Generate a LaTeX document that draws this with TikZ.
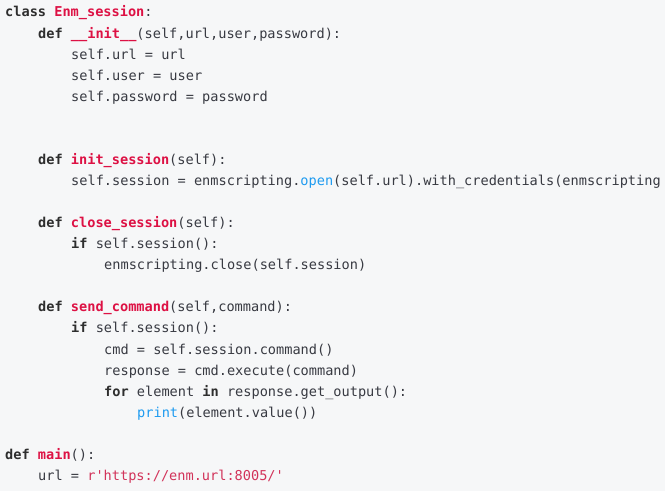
\documentclass[tikz,border=0pt]{standalone}
\usepackage{fontspec}
\newfontfamily\code{DejaVu Sans Mono}
\definecolor{bg}{HTML}{F6F7F8}
\definecolor{txt}{HTML}{383A42}
\definecolor{kw}{HTML}{2E2E2E}
\definecolor{fn}{HTML}{DD1144}
\definecolor{bi}{HTML}{1E9BF0}
\definecolor{st}{HTML}{D2335A}
\newcommand{\K}[1]{\textcolor{kw}{\bfseries #1}}
\newcommand{\F}[1]{\textcolor{fn}{\bfseries #1}}
\newcommand{\B}[1]{\textcolor{bi}{#1}}
\newcommand{\Sx}[1]{\textcolor{st}{#1}}
\begin{document}
\begin{tikzpicture}[x=1pt,y=1pt,
  ln/.style={anchor=base west,inner sep=0pt,text=txt,font=\code\fontsize{13.6}{16}\selectfont}]
\fill[bg] (0,0) rectangle (665,491);
\useasboundingbox (0,0) rectangle (665,491);
\clip (0,0) rectangle (665,491);
\def\ind#1{\hspace*{#1\fontcharwd\font`a}}
\node[ln] (l1) at (5,474) {\K{class} \F{Enm\_session}:};
\node[ln] (l2) at (38,452) {\K{def} \F{\_\_init\_\_}(self,url,user,password):};
\node[ln] (l3) at (71,431) {self.url = url};
\node[ln] (l4) at (71,410) {self.user = user};
\node[ln] (l5) at (71,389) {self.password = password};
\node[ln] (l6) at (38,326) {\K{def} \F{init\_session}(self):};
\node[ln] (l7) at (71,305) {self.session = enmscripting.\B{open}(self.url).with\_credentials(enmscripting};
\node[ln] (l8) at (38,263) {\K{def} \F{close\_session}(self):};
\node[ln] (l9) at (71,242) {\K{if} self.session():};
\node[ln] (l10) at (104,221) {enmscripting.close(self.session)};
\node[ln] (l11) at (38,179) {\K{def} \F{send\_command}(self,command):};
\node[ln] (l12) at (71,158) {\K{if} self.session():};
\node[ln] (l13) at (104,137) {cmd = self.session.command()};
\node[ln] (l14) at (104,116) {response = cmd.execute(command)};
\node[ln] (l15) at (104,95) {\K{for} element \K{in} response.get\_output():};
\node[ln] (l16) at (137,74) {\B{print}(element.value())};
\node[ln] (l17) at (5,32) {\K{def} \F{main}():};
\node[ln] (l18) at (38,11) {url = \Sx{r'https://enm.url:8005/'}};
\end{tikzpicture}
\end{document}
